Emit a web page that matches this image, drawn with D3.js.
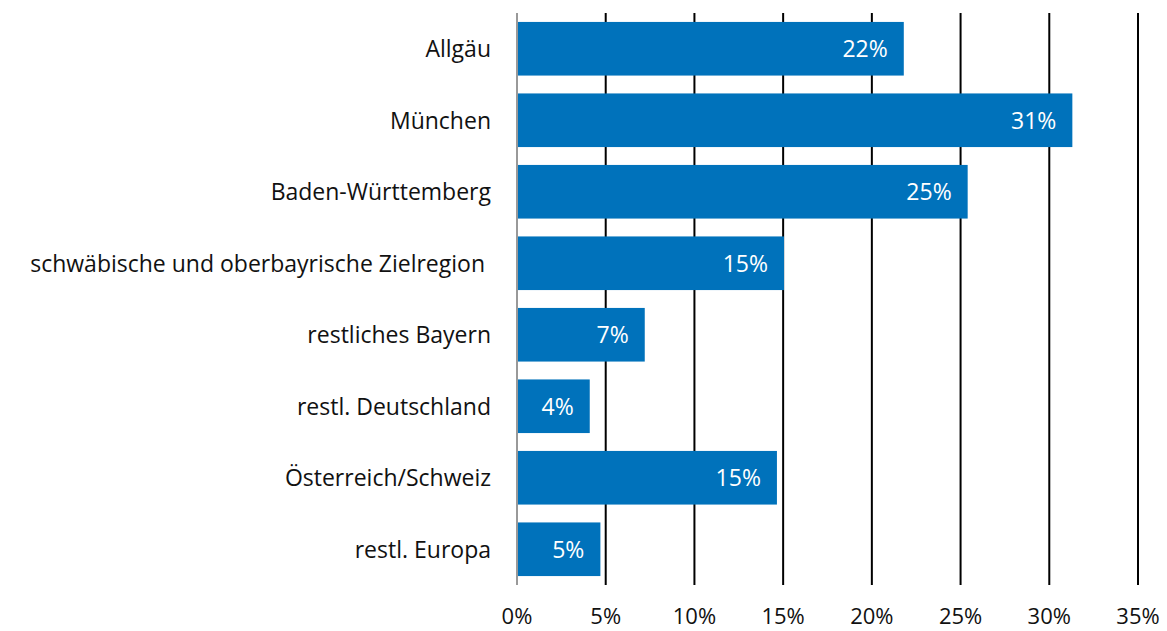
<!DOCTYPE html>
<html>
<head>
<meta charset="utf-8">
<script src="https://cdn.jsdelivr.net/npm/d3@7"></script>
<style>
  body { margin: 0; background: #fff; }
  text { font-family: "Open Sans", "Noto Sans", sans-serif; }
</style>
</head>
<body>
<script>
const regions = [
  "Allgäu",
  "München",
  "Baden-Württemberg",
  "schwäbische und oberbayrische Zielregion ",
  "restliches Bayern",
  "restl. Deutschland",
  "Österreich/Schweiz",
  "restl. Europa"
];
const shares = [21.8, 31.3, 25.4, 15.05, 7.2, 4.1, 14.65, 4.7];
const labels = ["22%", "31%", "25%", "15%", "7%", "4%", "15%", "5%"];
const ticks = [0, 5, 10, 15, 20, 25, 30, 35];

const data = regions.map((r, i) => ({ region: r, value: shares[i], label: labels[i] }));

const W = 1167, H = 631;
const plotLeft = 517, plotRight = 1138, plotTop = 13, plotBottom = 585;

const svg = d3.select("body").append("svg")
  .attr("width", W)
  .attr("height", H);

const x = d3.scaleLinear().domain([0, 35]).range([plotLeft, plotRight]);
const y = d3.scaleBand().domain(regions).range([plotTop, plotBottom])
  .paddingInner(0.25).paddingOuter(0.125);

// grid lines
svg.selectAll("line.grid").data(ticks.slice(1))
  .enter().append("line")
  .attr("class", "grid")
  .attr("x1", d => x(d)).attr("x2", d => x(d))
  .attr("y1", plotTop).attr("y2", plotBottom)
  .attr("stroke", "#000")
  .attr("stroke-width", 2);

// bars
svg.selectAll("rect").data(data)
  .enter().append("rect")
  .attr("x", x(0))
  .attr("y", d => y(d.region))
  .attr("width", d => x(d.value) - x(0))
  .attr("height", y.bandwidth())
  .attr("fill", "#0072BB");

// zero axis
svg.append("line")
  .attr("x1", x(0)).attr("x2", x(0))
  .attr("y1", plotTop).attr("y2", plotBottom)
  .attr("stroke", "#999")
  .attr("stroke-width", 2);

// value labels
svg.selectAll("text.val").data(data)
  .enter().append("text")
  .attr("class", "val")
  .attr("x", d => x(d.value) - 16)
  .attr("y", d => y(d.region) + y.bandwidth() / 2)
  .attr("dy", "0.36em")
  .attr("text-anchor", "end")
  .attr("fill", "#fff")
  .style("font-size", "23px")
  .text(d => d.label);

// category labels
svg.selectAll("text.cat").data(data)
  .enter().append("text")
  .attr("class", "cat")
  .attr("x", 491)
  .attr("y", d => y(d.region) + y.bandwidth() / 2)
  .attr("dy", "0.36em")
  .attr("text-anchor", "end")
  .attr("fill", "#111")
  .style("font-size", "23px")
  .style("white-space", "pre")
  .text(d => d.region);

// x tick labels
svg.selectAll("text.tick").data(ticks)
  .enter().append("text")
  .attr("class", "tick")
  .attr("x", d => x(d))
  .attr("y", 624)
  .attr("text-anchor", "middle")
  .attr("fill", "#111")
  .style("font-size", "22px")
  .text(d => d + "%");
</script>
</body>
</html>
